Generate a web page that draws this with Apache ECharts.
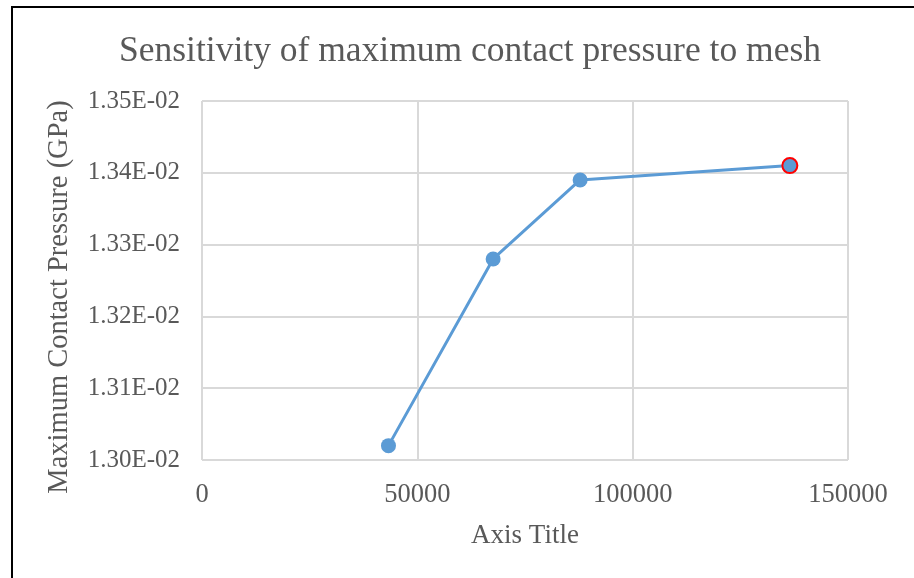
<!DOCTYPE html>
<html>
<head>
<meta charset="utf-8">
<script src="https://cdn.jsdelivr.net/npm/echarts@6/dist/echarts.min.js"></script>
<style>
  html, body { margin: 0; padding: 0; background: #fff; }
  #chart { width: 914px; height: 578px; }
</style>
</head>
<body>
<div id="chart"></div>
<script>
// Mesh element counts and the resulting maximum contact pressure (GPa)
const meshSizes = [43300, 67600, 87800, 136500];
const maxPressure = [0.01302, 0.01328, 0.01339, 0.01341];
const highlightIndex = 3;

const titleText = 'Sensitivity of maximum contact pressure to mesh';
const xAxisTitle = 'Axis Title';
const yAxisTitle = 'Maximum Contact Pressure (GPa)';

const FONT = '"Liberation Serif", "Times New Roman", serif';
const TEXT = '#595959';
const GRID = '#d9d9d9';
const LINE = '#5b9bd5';

const points = meshSizes.map((x, i) => {
  const p = { value: [x, maxPressure[i]] };
  if (i === highlightIndex) {
    p.itemStyle = { borderColor: '#ff0000', borderWidth: 2 };
  }
  return p;
});

// Excel-style scientific tick label, e.g. 1.35E-02
function sci(v) {
  const [m, ex] = Number(v).toExponential(2).toUpperCase().split('E');
  const n = parseInt(ex, 10);
  return m + 'E' + (n < 0 ? '-' : '+') + String(Math.abs(n)).padStart(2, '0');
}

const chart = echarts.init(document.getElementById('chart'));
chart.setOption({
  backgroundColor: '#fff',
  animation: false,
  title: {
    text: titleText,
    left: 465, top: 29, textAlign: 'center',
    textStyle: { fontFamily: FONT, fontSize: 35.5, fontWeight: 'normal', color: TEXT }
  },
  grid: { left: 202, top: 101, right: 66, bottom: 118 },
  xAxis: {
    type: 'value', min: 0, max: 150000, interval: 50000,
    name: xAxisTitle, nameLocation: 'middle', nameGap: 62,
    nameTextStyle: { fontFamily: FONT, fontSize: 27, color: TEXT },
    axisLine: { show: false }, axisTick: { show: false },
    axisLabel: { fontFamily: FONT, fontSize: 26.5, color: TEXT, margin: 22, formatter: v => String(v) },
    splitLine: { show: true, lineStyle: { color: GRID, width: 2 } }
  },
  yAxis: {
    type: 'value', min: 0.013, max: 0.0135, interval: 0.0001,
    axisLine: { show: false }, axisTick: { show: false },
    axisLabel: { fontFamily: FONT, fontSize: 25, color: TEXT, margin: 22, formatter: sci },
    splitLine: { show: true, lineStyle: { color: GRID, width: 2 } }
  },
  series: [{
    type: 'line',
    data: points,
    symbol: 'circle', symbolSize: 15,
    lineStyle: { color: LINE, width: 3 },
    itemStyle: { color: LINE }
  }],
  graphic: [
    {
      type: 'text', silent: true,
      x: 60, y: 297, rotation: Math.PI / 2,
      style: {
        text: yAxisTitle, fontFamily: FONT, fontSize: 28.5, fill: TEXT,
        align: 'center', verticalAlign: 'middle'
      }
    },
    {
      type: 'rect', silent: true,
      shape: { x: 12, y: 7, width: 920, height: 600 },
      style: { fill: null, stroke: '#000', lineWidth: 2 }
    }
  ]
});
</script>
</body>
</html>
